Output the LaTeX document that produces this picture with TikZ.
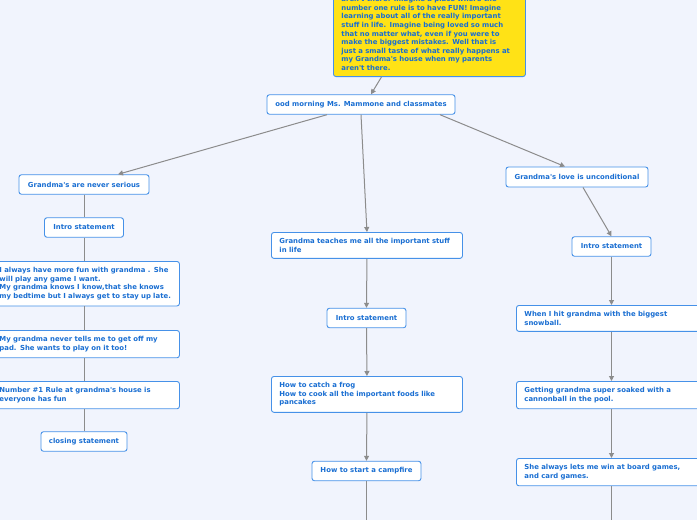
\documentclass[tikz,border=0pt]{standalone}
\usepackage{fontspec}
\newfontfamily\mapfont{DejaVu Sans}
\usetikzlibrary{arrows.meta}
\begin{document}
\begin{tikzpicture}[x=1pt, y=-1pt,
  topic/.style={
    draw=Cbord, fill=white, rounded corners=2.5pt, line width=0.9pt,
    font={\mapfont\bfseries\fontsize{6.9}{8.6}\selectfont}, text=Ctxt,
    inner sep=0pt, minimum height=19.5pt, align=center
  },
  note/.style={
    topic, anchor=north west, align=left,
    inner xsep=8pt, inner ysep=6pt, text width=#1
  },
  link/.style={draw=Clink, line width=1pt, -{Triangle[width=5pt,length=5pt]}},
  stem/.style={draw=Clink, line width=1pt}
]
\colorlet{Cbord}{blue!45!cyan!80!black}
\definecolor{Cbord}{RGB}{70,145,232}
\definecolor{Ctxt}{RGB}{25,110,210}
\definecolor{Clink}{RGB}{140,140,140}
\definecolor{Cbg}{RGB}{241,244,253}
\definecolor{Cyel}{RGB}{255,226,22}
\useasboundingbox (0,0) rectangle (697,520);
\fill[Cbg] (0,0) rectangle (697,520);
\clip (0,0) rectangle (697,520);
%% CENTRAL TOPIC
\node[note=176pt, anchor=south west, fill=Cyel] (intro) at (333,77)
  {aren't there.  Imagine a place where the\\
   number one rule is to have FUN!  Imagine\\
   learning about all of the really important\\
   stuff in life.  Imagine being loved so much\\
   that no matter what, even if you were to\\
   make the biggest mistakes.  Well that is\\
   just a small taste of what really happens at\\
   my Grandma's house when my parents\\
   aren't there.};
\node[topic, minimum width=188pt] (root) at (361,104.5) {ood morning Ms. Mammone and classmates};
%% LEFT BRANCH
\node[topic, minimum width=130pt] (gns)    at (84,184.5)  {Grandma's are never serious};
\node[topic, minimum width=79pt]  (lintro) at (84,227.5)  {Intro statement};
\node[note=172pt] (lfun)  at (-9,261)
  {I always have more fun with grandma . She\\
   will play any game I want.\\
   My grandma knows I know,that she knows\\
   my bedtime but I always get to stay up late.};
\node[note=172pt] (lpad)  at (-9,330)
  {My grandma never tells me to get off my\\
   pad.  She wants to play on it too!};
\node[note=172pt] (lrule) at (-9,381)
  {Number \#1 Rule at grandma's house is\\
   everyone has fun};
\node[topic, minimum width=86pt]  (close)  at (84,441.5)  {closing statement};
%% MIDDLE BRANCH
\node[note=175pt] (teach) at (271,232)
  {Grandma teaches me all the important stuff\\
   in life};
\node[topic, minimum width=79pt]  (cintro) at (366.5,318) {Intro statement};
\node[note=175pt] (frog)  at (271,376)
  {How to catch a frog\\
   How to cook all the important foods like\\
   pancakes};
\node[topic, minimum width=109pt] (fire)   at (366.5,471) {How to start a campfire};
\coordinate (cend) at (366.5,530);
%% RIGHT BRANCH
\node[topic, minimum width=142pt, minimum height=20pt] (love) at (577,177) {Grandma's love is unconditional};
\node[topic, minimum width=79pt]  (rintro) at (611.5,246.5) {Intro statement};
\node[note=190pt] (snow)  at (516,305)
  {When I hit grandma with the biggest\\
   snowball.};
\node[note=190pt] (soak)  at (516,381)
  {Getting grandma super soaked with a\\
   cannonball in the pool.};
\node[note=190pt] (games) at (516,458)
  {She always lets me win at board games,\\
   and card games.};
\coordinate (rend) at (611.5,530);
%% CONNECTORS
\draw[link] ([xshift=-48pt]intro.south) -- ([xshift=10pt]root.north);
\draw[link] ([xshift=-34pt]root.south) -- ([xshift=34pt]gns.north);
\draw[link] (root.south) -- (teach.north);
\draw[link] ([xshift=79pt]root.south) -- ([xshift=-12pt]love.north);
\draw[stem] (gns.south) -- (lintro.north);
\draw[stem] (lintro.south) -- (lintro.south |- lfun.north);
\draw[stem] (lintro.south |- lfun.south) -- (lintro.south |- lpad.north);
\draw[stem] (lintro.south |- lpad.south) -- (lintro.south |- lrule.north);
\draw[stem] (lintro.south |- lrule.south) -- (close.north);
\draw[link] (teach.south) -- (cintro.north);
\draw[link] (cintro.south) -- (frog.north);
\draw[link] (frog.south) -- (fire.north);
\draw[stem] (fire.south) -- (cend);
\draw[link] ([xshift=6pt]love.south) -- (rintro.north);
\draw[link] (rintro.south) -- (rintro.south |- snow.north);
\draw[link] (rintro.south |- snow.south) -- (rintro.south |- soak.north);
\draw[link] (rintro.south |- soak.south) -- (rintro.south |- games.north);
\draw[stem] (rintro.south |- games.south) -- (rend);
\end{tikzpicture}
\end{document}
